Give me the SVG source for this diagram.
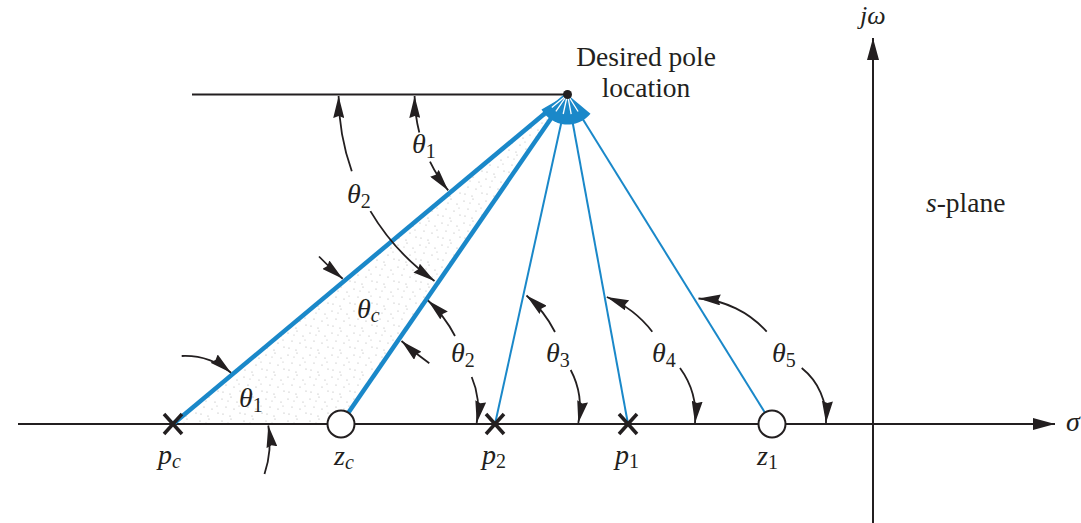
<svg xmlns="http://www.w3.org/2000/svg" width="1081" height="523" viewBox="0 0 1081 523">
<style>
.ax{stroke:#231f20;stroke-width:2;fill:none}
.arc{stroke:#231f20;stroke-width:1.8;fill:none;marker-end:url(#ah)}
.thick{stroke:#1a88c9;stroke-width:4.5;fill:none}
.thin{stroke:#1a88c9;stroke-width:2;fill:none}
.x{stroke:#231f20;stroke-width:3.5;fill:none}
.o{stroke:#231f20;stroke-width:2;fill:#fff}
text{font-family:"Liberation Serif","DejaVu Serif",serif;fill:#231f20;font-size:27.5px}
.m{font-style:italic;font-size:28px}
.sub{font-size:20px;font-style:normal}
.subi{font-size:20px;font-style:italic}
</style>
<defs>
<marker id="ah" viewBox="0 0 22 11" refX="22" refY="5.5" markerWidth="22" markerHeight="11" markerUnits="userSpaceOnUse" orient="auto"><path d="M0,0 L22,5.5 L0,11 L2,5.5 z" fill="#231f20"/></marker>
<marker id="axh" viewBox="0 0 22 12" refX="22" refY="6" markerWidth="22" markerHeight="12" markerUnits="userSpaceOnUse" orient="auto"><path d="M0,0 L22,6 L0,12 z" fill="#231f20"/></marker>
<pattern id="stip" width="22" height="22" patternUnits="userSpaceOnUse">
<g fill="#a8a8a8">
<circle cx="2" cy="3" r="0.6"/><circle cx="11" cy="1" r="0.6"/><circle cx="17" cy="6" r="0.6"/><circle cx="6" cy="11" r="0.6"/><circle cx="14" cy="13" r="0.6"/><circle cx="20" cy="17" r="0.6"/><circle cx="3" cy="18" r="0.6"/><circle cx="10" cy="20" r="0.6"/><circle cx="19" cy="10" r="0.5"/><circle cx="8" cy="5" r="0.5"/>
</g>
</pattern>
</defs>
<rect width="1081" height="523" fill="#fff"/>

<g id="shaded-angle">
<polygon points="173,424 567.5,94.5 341,424" fill="url(#stip)"/>
</g>

<g id="axes">
<line class="ax" x1="18" y1="424" x2="1055" y2="424" style="marker-end:url(#axh)"/>
<line class="ax" x1="873" y1="523" x2="873" y2="38" style="marker-end:url(#axh)"/>
<text class="m" x="860" y="24" style="font-size:26px">jω</text>
<text class="m" x="1066" y="431">σ</text>
<text x="926" y="212"><tspan font-style="italic">s</tspan>-plane</text>
</g>

<g id="connectors">
<line class="ax" x1="192" y1="94.5" x2="567.5" y2="94.5"/>
<line class="thick" x1="567.5" y1="94.5" x2="173" y2="424"/>
<line class="thick" x1="567.5" y1="94.5" x2="348.5" y2="412.5"/>
<line class="thin" x1="567.5" y1="94.5" x2="495" y2="424"/>
<line class="thin" x1="567.5" y1="94.5" x2="628" y2="424"/>
<line class="thin" x1="567.5" y1="94.5" x2="765" y2="412.8"/>
</g>

<g id="pole">
<path d="M567.5,94.5 L541.5,109.5 A30 30 0 0 0 590.5,113.8 Z" fill="#1a88c9"/>
<g stroke="#fff" stroke-width="1.3">
<line x1="567.5" y1="94.5" x2="551.8" y2="107.6"/>
<line x1="567.5" y1="94.5" x2="555.9" y2="111.3"/>
<line x1="567.5" y1="94.5" x2="563.2" y2="114.0"/>
<line x1="567.5" y1="94.5" x2="571.2" y2="114.2"/>
<line x1="567.5" y1="94.5" x2="578.1" y2="111.5"/>
</g>
<circle cx="567.5" cy="94.5" r="4.5" fill="#231f20"/>
<text x="646" y="66" text-anchor="middle">Desired pole</text>
<text x="646" y="97" text-anchor="middle">location</text>
</g>

<g id="angle-arrows">
<path class="arc" d="M419.3,132.5 A153 153 0 0 1 414.6,96"/>
<path class="arc" d="M430,161.6 A153 153 0 0 0 448.2,190.4"/>
<path class="arc" d="M351.8,171.3 A229 229 0 0 1 338.6,96"/>
<path class="arc" d="M370.4,211.1 A229 229 0 0 0 434.5,280.9"/>
<path class="arc" d="M319,256.5 A293 293 0 0 0 342.7,278.8"/>
<path class="arc" d="M429.3,363.3 A293 293 0 0 1 401.5,341"/>
<path class="arc" d="M181.7,356 A72 72 0 0 1 231,372.7"/>
<path class="arc" d="M264.5,474 A100 100 0 0 0 268.3,425.5"/>
<path class="arc" d="M455,336 A130 130 0 0 0 428,300.5"/>
<path class="arc" d="M471.7,377 A80 80 0 0 1 476.7,423"/>
<path class="arc" d="M555,332 A120 120 0 0 0 526.5,295.5"/>
<path class="arc" d="M570.7,370 A80 80 0 0 1 578.3,423"/>
<path class="arc" d="M652.3,331.7 A110 110 0 0 0 606.8,297"/>
<path class="arc" d="M680,368 A80 80 0 0 1 695,423"/>
<path class="arc" d="M766.7,331.7 A100 100 0 0 0 698.5,298.5"/>
<path class="arc" d="M801.7,368 A65 65 0 0 1 826,423"/>
</g>

<g id="angle-labels">
<text class="m" x="412" y="153">θ<tspan class="sub" dy="5">1</tspan></text>
<text class="m" x="347" y="203">θ<tspan class="sub" dy="5">2</tspan></text>
<text class="m" x="357" y="318">θ<tspan class="subi" dy="4">c</tspan></text>
<text class="m" x="239" y="407">θ<tspan class="sub" dy="5">1</tspan></text>
<text class="m" x="451" y="362">θ<tspan class="sub" dy="5">2</tspan></text>
<text class="m" x="546" y="362">θ<tspan class="sub" dy="5">3</tspan></text>
<text class="m" x="652" y="362">θ<tspan class="sub" dy="5">4</tspan></text>
<text class="m" x="772" y="362">θ<tspan class="sub" dy="5">5</tspan></text>
</g>

<g id="pc">
<path class="x" d="M164,414 L182,434 M182,414 L164,434"/>
<text class="m" x="158" y="464">p<tspan class="subi" dy="4">c</tspan></text>
</g>
<g id="zc">
<circle class="o" cx="341" cy="424" r="13.5"/>
<text class="m" x="334" y="465">z<tspan class="subi" dy="4">c</tspan></text>
</g>
<g id="p2">
<path class="x" d="M486,414 L504,434 M504,414 L486,434"/>
<text class="m" x="482" y="464">p<tspan class="sub" dy="4">2</tspan></text>
</g>
<g id="p1">
<path class="x" d="M619,414 L637,434 M637,414 L619,434"/>
<text class="m" x="615" y="464">p<tspan class="sub" dy="4">1</tspan></text>
</g>
<g id="z1">
<circle class="o" cx="772" cy="424" r="13.5"/>
<text class="m" x="757" y="465">z<tspan class="sub" dy="4">1</tspan></text>
</g>
</svg>
